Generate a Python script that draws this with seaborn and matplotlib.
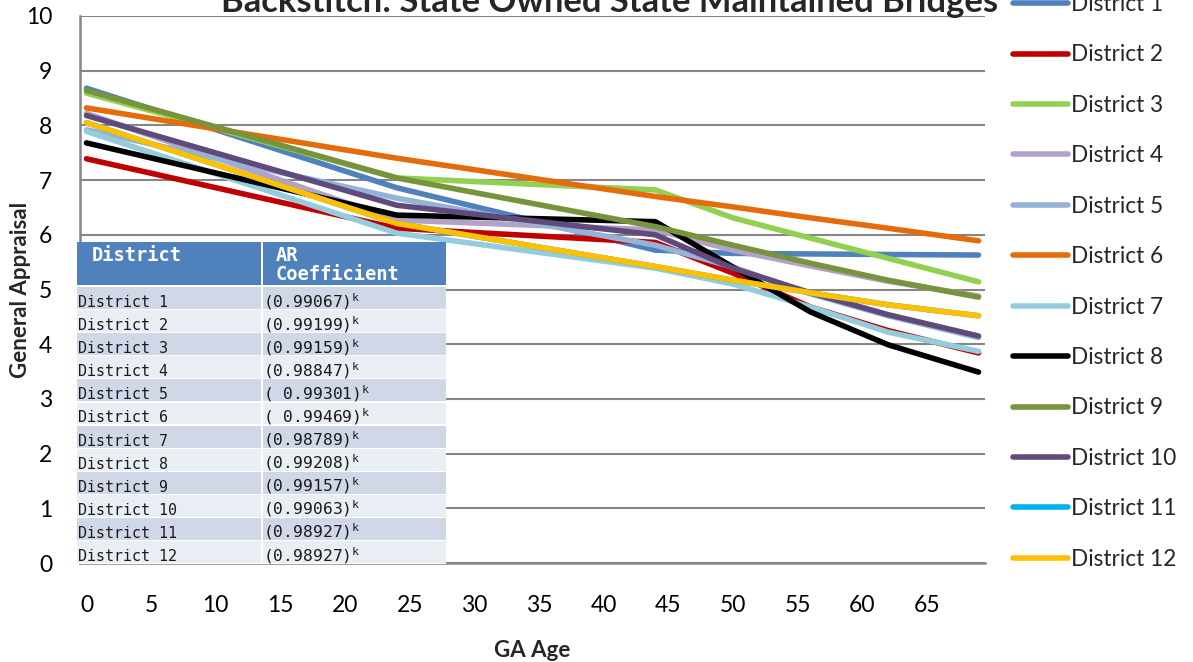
import numpy as np
import pandas as pd
import matplotlib
matplotlib.use("Agg")
import matplotlib.pyplot as plt
import seaborn as sns
from matplotlib.patches import Rectangle

# ---------------- data ----------------
ages = [0, 24, 44, 50, 56, 62, 69]
district_1 = [8.68, 6.86, 5.72, 5.66, 5.65, 5.64, 5.63]
district_2 = [7.39, 6.12, 5.86, 5.30, 4.68, 4.25, 3.84]
district_3 = [8.59, 7.04, 6.82, 6.31, 5.94, 5.57, 5.14]
district_4 = [8.22, 6.27, 6.09, 5.72, 5.43, 5.15, 4.88]
district_5 = [7.92, 6.67, 5.81, 5.41, 4.92, 4.52, 4.12]
district_6 = [8.32, 7.40, 6.70, 6.51, 6.31, 6.12, 5.89]
district_7 = [7.89, 6.03, 5.39, 5.10, 4.68, 4.22, 3.87]
district_8 = [7.68, 6.36, 6.24, 5.41, 4.59, 3.99, 3.49]
district_9 = [8.64, 7.04, 6.15, 5.81, 5.48, 5.17, 4.86]
district_10 = [8.18, 6.54, 6.00, 5.39, 4.94, 4.54, 4.15]
district_11 = [8.05, 6.21, 5.42, 5.17, 4.94, 4.72, 4.52]
district_12 = [8.05, 6.21, 5.42, 5.17, 4.94, 4.72, 4.52]

districts = ["District 1", "District 2", "District 3", "District 4", "District 5", "District 6",
             "District 7", "District 8", "District 9", "District 10", "District 11", "District 12"]
coefficients = ["(0.99067)", "(0.99199)", "(0.99159)", "(0.98847)", "( 0.99301)", "( 0.99469)",
                "(0.98789)", "(0.99208)", "(0.99157)", "(0.99063)", "(0.98927)", "(0.98927)"]
x_tick_labels = [0, 5, 10, 15, 20, 25, 30, 35, 40, 45, 50, 55, 60, 65]
y_tick_labels = [0, 1, 2, 3, 4, 5, 6, 7, 8, 9, 10]

series = [district_1, district_2, district_3, district_4, district_5, district_6,
          district_7, district_8, district_9, district_10, district_11, district_12]

df = pd.DataFrame({
    "GA Age": np.tile(ages, len(districts)),
    "General Appraisal": np.concatenate(series),
    "District": np.repeat(districts, len(ages)),
})

palette = ["#4F81BD", "#C00000", "#92D050", "#B3A2C7", "#95B3D7", "#E46C0A",
           "#93CDDD", "#000000", "#77933C", "#604A7B", "#00B0F0", "#FFC000"]

# ---------------- style ----------------
sns.set_style("white")
plt.rcParams["font.family"] = ["Lato", "DejaVu Sans"]
GRID = "#868686"

W, H = 1193, 662
fig = plt.figure(figsize=(W / 100, H / 100), dpi=100)


def fx(px):
    return px / W


def fy(py):
    return 1 - py / H


ax = fig.add_axes([fx(80), fy(563), fx(985) - fx(80), fy(16) - fy(563)])

sns.lineplot(data=df, x="GA Age", y="General Appraisal", hue="District",
             hue_order=districts, palette=palette, linewidth=4, ax=ax,
             estimator=None, sort=True, legend=True,
             solid_capstyle="round", solid_joinstyle="round")

ax.set_xlim(-0.5, 69.5)
ax.set_ylim(0, 10)
ax.set_xticks(x_tick_labels)
ax.set_xticklabels([str(v) for v in x_tick_labels])
ax.set_xticks(np.arange(-0.5, 70, 1), minor=True)
ax.set_yticks(y_tick_labels)
ax.set_yticklabels([str(v) for v in y_tick_labels])
ax.tick_params(axis="x", which="major", length=0, pad=23, labelsize=16.5, labelcolor="black")
ax.tick_params(axis="x", which="minor", length=5, width=1.2, color=GRID, direction="out")
ax.tick_params(axis="y", which="major", length=8, width=1.5, color=GRID, direction="out",
               pad=12, labelsize=16.5, labelcolor="black")
ax.yaxis.grid(True, color=GRID, linewidth=1.5)
ax.xaxis.grid(False)
ax.set_axisbelow(True)
for s in ["top", "right"]:
    ax.spines[s].set_visible(False)
for s in ["left", "bottom"]:
    ax.spines[s].set_color(GRID)
    ax.spines[s].set_linewidth(1.8)

ax.set_xlabel("GA Age", fontsize=16, fontweight="bold")
ax.set_ylabel("General Appraisal", fontsize=16, fontweight="bold")
ax.xaxis.set_label_coords(0.5, -0.141)
ax.yaxis.set_label_coords((31 - 80) / 905, 0.5)

# ---------------- legend ----------------
handles, labels = ax.get_legend_handles_labels()
if ax.get_legend() is not None:
    ax.get_legend().remove()
for h in handles:
    h.set_linewidth(4)
    h.set_solid_capstyle("round")
fig.legend(handles, labels, loc="upper left", bbox_to_anchor=(fx(1013), fy(-6)),
           frameon=False, fontsize=16.3, handlelength=2.45, handletextpad=0.12,
           labelspacing=1.3, borderaxespad=0, borderpad=0)

# ---------------- title (clipped at top) ----------------
title = fig.text(fx(610), fy(12), "Backstitch: State Owned State Maintained Bridges",
                 ha="center", va="baseline", fontsize=22, fontweight="bold")
fig.canvas.draw()
w = title.get_window_extent().width
title.set_fontsize(22 * 775 / w)

# ---------------- AR coefficient table ----------------
tx0, tx1, tx2 = 77, 262, 446
head_top, head_bot = 242, 285
row_top, row_h = 287, 23.1
tb = dict(transform=fig.transFigure, zorder=5)

fig.add_artist(Rectangle((fx(tx0), fy(564)), fx(tx2) - fx(tx0), fy(head_top) - fy(564),
                         facecolor="white", edgecolor="none", **tb))
for c0, c1 in [(tx0, tx1 - 1), (tx1 + 1, tx2)]:
    fig.add_artist(Rectangle((fx(c0), fy(head_bot)), fx(c1) - fx(c0), fy(head_top) - fy(head_bot),
                             facecolor="#4F81BD", edgecolor="none", **tb))
for i in range(len(districts)):
    r0 = row_top + i * row_h
    r1 = r0 + row_h - 1.2
    col = "#D0D8E8" if i % 2 == 0 else "#E9EDF4"
    for c0, c1 in [(tx0, tx1 - 1), (tx1 + 1, tx2)]:
        fig.add_artist(Rectangle((fx(c0), fy(r1)), fx(c1) - fx(c0), fy(r0) - fy(r1),
                                 facecolor=col, edgecolor="none", **tb))

mono = "DejaVu Sans Mono"
fig.text(fx(92), fy(261), "District", family=mono, fontsize=13.5, fontweight="bold",
         color="white", va="baseline", ha="left", zorder=6)
fig.text(fx(276), fy(261), "AR", family=mono, fontsize=13.5, fontweight="bold",
         color="white", va="baseline", ha="left", zorder=6)
fig.text(fx(276), fy(280), "Coefficient", family=mono, fontsize=13.5, fontweight="bold",
         color="white", va="baseline", ha="left", zorder=6)
for i, (d, cf) in enumerate(zip(districts, coefficients)):
    base = row_top + i * row_h + 20
    fig.text(fx(78), fy(base), d, family=mono, fontsize=10.8, color="#1a1a1a",
             va="baseline", ha="left", zorder=6)
    fig.text(fx(263), fy(base), cf + r"$^{\mathregular{k}}$", family=mono, fontsize=11.8,
             color="#1a1a1a", va="baseline", ha="left", zorder=6)

fig.savefig("out.png", dpi=100)
